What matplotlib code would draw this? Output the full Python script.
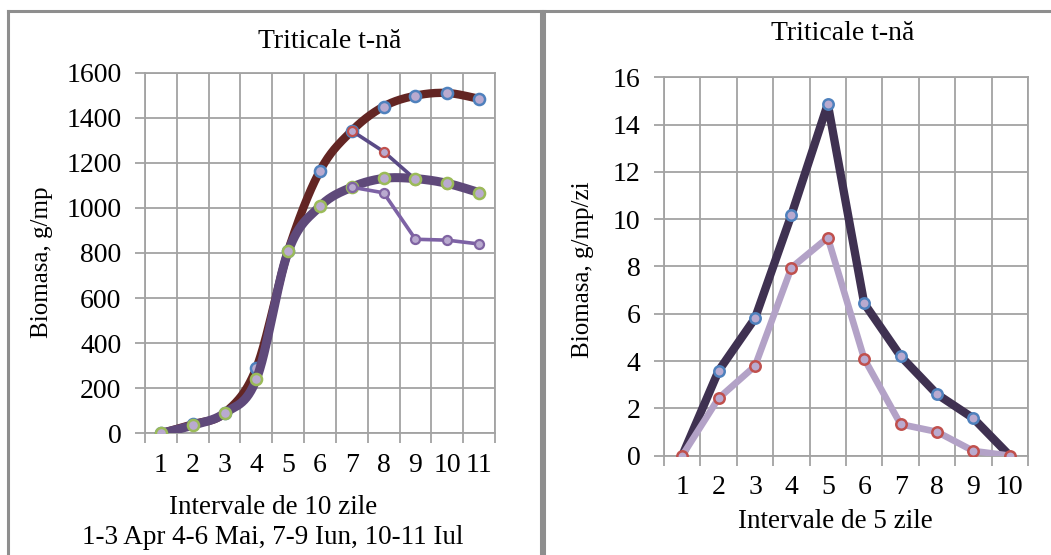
import numpy as np
import matplotlib
matplotlib.use("Agg")
import matplotlib.pyplot as plt
from matplotlib.lines import Line2D

plt.rcParams['font.family'] = ['Liberation Serif', 'DejaVu Serif']

# ---------------- data ----------------
title = "Triticale t-nă"

left_x = list(range(1, 12))
left_xticklabels = [str(i) for i in left_x]
left_yticks = [0, 200, 400, 600, 800, 1000, 1200, 1400, 1600]
left_s1 = [0, 40, 90, 290, 810, 1165, 1342, 1450, 1498, 1510, 1484]          # brown, blue markers
left_s2 = [0, 36, 89, 240, 807, 1007, 1092, 1131, 1130, 1109, 1068]         # purple thick, green markers
left_s3 = [np.nan]*6 + [1342, 1250, 1126, 1104, 1072]                        # thin, red markers
left_s4 = [np.nan]*6 + [1092, 1067, 861, 857, 840]                           # thin, purple markers

right_x = list(range(1, 11))
right_xticklabels = [str(i) for i in right_x]
right_yticks = [0, 2, 4, 6, 8, 10, 12, 14, 16]
right_a = [0, 3.59, 5.81, 10.18, 14.87, 6.44, 4.21, 2.60, 1.58, 0]           # dark
right_b = [0, 2.43, 3.79, 7.95, 9.22, 4.10, 1.33, 1.01, 0.20, 0]             # light

# ---------------- helpers ----------------
def smooth(xs, ys, n=30):
    xs = np.asarray(xs, float); ys = np.asarray(ys, float)
    m = ~np.isnan(ys)
    xs, ys = xs[m], ys[m]
    P = np.column_stack([xs, ys])
    out = [P[0]]
    for i in range(len(P) - 1):
        p0 = P[i - 1] if i > 0 else P[i]
        p1 = P[i]; p2 = P[i + 1]
        p3 = P[i + 2] if i + 2 < len(P) else P[i + 1]
        c1 = p1 + (p2 - p0) / 6.0
        c2 = p2 - (p3 - p1) / 6.0
        t = np.linspace(0, 1, n)[1:, None]
        B = ((1 - t) ** 3) * p1 + 3 * ((1 - t) ** 2) * t * c1 + 3 * (1 - t) * t ** 2 * c2 + t ** 3 * p2
        out.extend(B)
    out = np.array(out)
    return out[:, 0], out[:, 1]

W, H = 1051, 555
fig = plt.figure(figsize=(W / 100, H / 100), dpi=100)

def fx(px): return px / W
def fy(py): return 1 - py / H

GRID = '#A3A3A3'
FILL = '#B9AACF'
FS = 20
FSY = 18

# panel borders
bc = '#8E8E8E'
for (x0, y0, x1, y1) in [(8, 11, 8, 555), (8, 11, 541, 11), (541, 11, 541, 555),
                         (544, 11, 544, 555), (544, 11, 1051, 11)]:
    fig.add_artist(Line2D([fx(x0), fx(x1)], [fy(y0), fy(y1)], color=bc, lw=2.2,
                          transform=fig.transFigure))

def style_axes(ax, ncat, yticks):
    ax.set_xlim(0.5, ncat + 0.5)
    ax.set_ylim(yticks[0], yticks[-1])
    ax.set_yticks(yticks)
    ax.set_yticklabels([str(v) for v in yticks])
    ax.set_xticks(range(1, ncat + 1))
    ax.set_xticks(np.arange(0.5, ncat + 1, 1.0), minor=True)
    ax.tick_params(axis='x', which='major', length=0, pad=14, labelsize=FS)
    ax.tick_params(axis='x', which='minor', length=7, width=1.3, color=GRID)
    ax.tick_params(axis='y', which='major', length=7, width=1.3, color=GRID, pad=10, labelsize=FS)
    ax.grid(True, which='minor', axis='x', color=GRID, lw=1.3)
    ax.grid(True, which='major', axis='y', color=GRID, lw=1.3)
    for s in ax.spines.values():
        s.set_color(GRID); s.set_linewidth(1.3)
    ax.set_axisbelow(True)

# ---------------- left chart ----------------
axL = fig.add_axes([fx(145), fy(433.3), fx(495) - fx(145), fy(72.7) - fy(433.3)])
style_axes(axL, 11, left_yticks)
axL.set_xticklabels(left_xticklabels)

sx, sy = smooth(left_x, left_s1)
axL.plot(sx, sy, color='#632523', lw=6, solid_capstyle='round', zorder=3)
axL.plot(left_x, left_s1, 'o', ms=8, mfc=FILL, mec='#4F81BD', mew=1.8, zorder=3)

axL.plot(left_x, left_s3, color='#5A4A86', lw=2.6, zorder=4)
axL.plot(left_x, left_s3, 'o', ms=6.5, mfc=FILL, mec='#C0504D', mew=1.6, zorder=4)

sx, sy = smooth(left_x, left_s2)
axL.plot(sx, sy, color='#5F497A', lw=6.5, solid_capstyle='round', zorder=5)
axL.plot(left_x, left_s2, 'o', ms=8, mfc=FILL, mec='#9BBB59', mew=1.8, zorder=5)

axL.plot(left_x, left_s4, color='#7D62A5', lw=2.6, zorder=6)
axL.plot(left_x, left_s4, 'o', ms=6.5, mfc=FILL, mec='#8064A2', mew=1.6, zorder=6)

fig.text(fx(330), fy(41), title, ha='center', va='center', fontsize=FS)
fig.text(fx(42), fy(262), "Biomasa, g/mp", ha='center', va='center', rotation=90, fontsize=FSY)
fig.text(fx(273), fy(508), "Intervale de 10 zile", ha='center', va='center', fontsize=FS - 0.5)
fig.text(fx(273), fy(538), "1-3 Apr 4-6 Mai, 7-9 Iun, 10-11 Iul", ha='center', va='center', fontsize=FS - 0.5)

# ---------------- right chart ----------------
axR = fig.add_axes([fx(664), fy(455.7), fx(1028) - fx(664), fy(77.3) - fy(455.7)])
style_axes(axR, 10, right_yticks)
axR.set_xticklabels(right_xticklabels)

axR.plot(right_x, right_a, color='#3F3151', lw=6, solid_joinstyle='round', zorder=3)
axR.plot(right_x[1:-1], right_a[1:-1], 'o', ms=7.5, mfc=FILL, mec='#4F81BD', mew=1.8, zorder=3)

axR.plot(right_x, right_b, color='#B3A2C7', lw=4.8, solid_joinstyle='round', zorder=4)
axR.plot(right_x, right_b, 'o', ms=7.5, mfc=FILL, mec='#C0504D', mew=1.8, zorder=4)

fig.text(fx(843), fy(33), title, ha='center', va='center', fontsize=FS)
fig.text(fx(583), fy(270), "Biomasa, g/mp/zi", ha='center', va='center', rotation=90, fontsize=FSY)
fig.text(fx(835), fy(521), "Intervale de 5 zile", ha='center', va='center', fontsize=FS - 0.5)

fig.savefig('out.png', dpi=100)
